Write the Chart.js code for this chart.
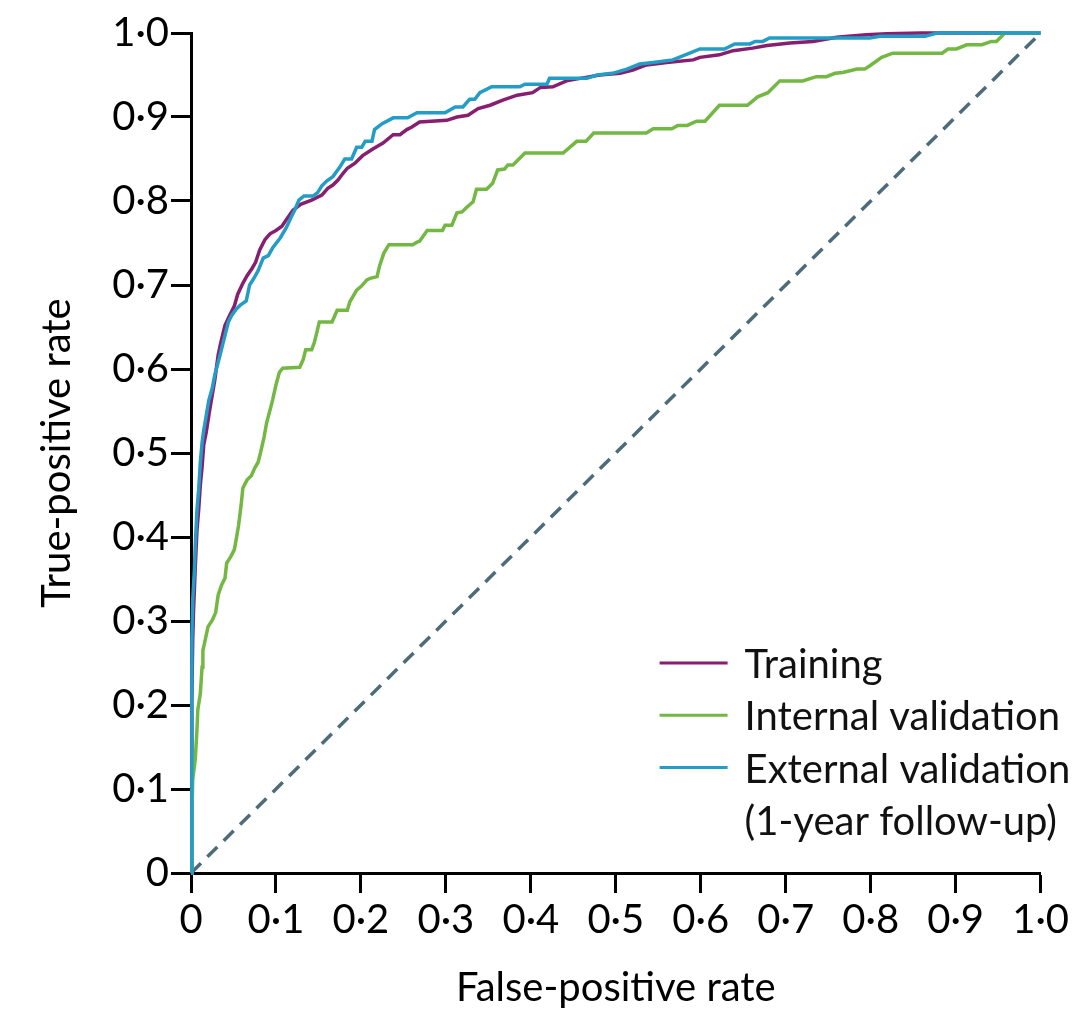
<!DOCTYPE html>
<html>
<head>
<meta charset="utf-8">
<script src="https://cdn.jsdelivr.net/npm/chart.js@4/dist/chart.umd.min.js"></script>
<style>
  html, body { margin: 0; padding: 0; background: #ffffff; }
  #wrap { width: 1072px; height: 1013px; position: relative; }
</style>
</head>
<body>
<div id="wrap"><canvas id="c" width="1072" height="1013"></canvas></div>
<script>
// ---------- data ----------
const tickLabels = ['0', '0·1', '0·2', '0·3', '0·4', '0·5', '0·6', '0·7', '0·8', '0·9', '1·0'];
const seriesNames = ['Training', 'Internal validation', 'External validation', '(1-year follow-up)'];

const trainingFpr = [0, 0.001, 0.002, 0.003, 0.005, 0.007, 0.009, 0.011, 0.013, 0.015, 0.018, 0.021, 0.025, 0.028, 0.032, 0.035, 0.040, 0.046, 0.051, 0.055, 0.061, 0.066, 0.072, 0.076, 0.081, 0.087, 0.093, 0.100, 0.107, 0.113, 0.120, 0.129, 0.142, 0.154, 0.161, 0.167, 0.173, 0.179, 0.184, 0.193, 0.202, 0.214, 0.226, 0.238, 0.246, 0.254, 0.260, 0.269, 0.301, 0.313, 0.326, 0.338, 0.352, 0.367, 0.384, 0.402, 0.411, 0.426, 0.442, 0.458, 0.481, 0.505, 0.520, 0.536, 0.560, 0.591, 0.599, 0.622, 0.638, 0.661, 0.678, 0.705, 0.732, 0.760, 0.795, 0.819, 0.860, 1.0];
const trainingTpr = [0, 0.206, 0.277, 0.313, 0.364, 0.408, 0.432, 0.462, 0.483, 0.510, 0.525, 0.545, 0.569, 0.587, 0.617, 0.631, 0.652, 0.665, 0.675, 0.689, 0.702, 0.711, 0.720, 0.727, 0.742, 0.754, 0.761, 0.765, 0.770, 0.779, 0.789, 0.796, 0.801, 0.807, 0.815, 0.819, 0.825, 0.833, 0.839, 0.845, 0.854, 0.862, 0.869, 0.879, 0.879, 0.885, 0.888, 0.894, 0.896, 0.900, 0.902, 0.910, 0.914, 0.920, 0.926, 0.929, 0.935, 0.936, 0.943, 0.946, 0.950, 0.952, 0.956, 0.962, 0.965, 0.968, 0.971, 0.974, 0.979, 0.982, 0.985, 0.988, 0.990, 0.995, 0.998, 0.999, 1.0, 1.0];

const internalFpr = [0, 0.001, 0.002, 0.005, 0.007, 0.008, 0.011, 0.013, 0.014, 0.016, 0.020, 0.025, 0.029, 0.032, 0.036, 0.040, 0.042, 0.047, 0.051, 0.053, 0.056, 0.059, 0.061, 0.066, 0.071, 0.075, 0.079, 0.082, 0.086, 0.089, 0.093, 0.096, 0.100, 0.104, 0.108, 0.128, 0.132, 0.135, 0.142, 0.145, 0.148, 0.151, 0.166, 0.172, 0.184, 0.187, 0.195, 0.201, 0.207, 0.211, 0.219, 0.222, 0.227, 0.233, 0.261, 0.266, 0.269, 0.278, 0.296, 0.299, 0.307, 0.313, 0.319, 0.324, 0.332, 0.336, 0.348, 0.355, 0.361, 0.369, 0.373, 0.379, 0.393, 0.438, 0.454, 0.465, 0.474, 0.536, 0.544, 0.566, 0.573, 0.584, 0.595, 0.605, 0.622, 0.655, 0.667, 0.679, 0.693, 0.720, 0.736, 0.748, 0.758, 0.767, 0.784, 0.793, 0.799, 0.813, 0.826, 0.884, 0.891, 0.901, 0.913, 0.931, 0.942, 0.948, 0.958, 1.0];
const internalTpr = [0, 0.063, 0.111, 0.135, 0.170, 0.194, 0.214, 0.245, 0.265, 0.274, 0.293, 0.301, 0.310, 0.331, 0.343, 0.351, 0.369, 0.377, 0.385, 0.396, 0.414, 0.438, 0.458, 0.468, 0.473, 0.482, 0.489, 0.501, 0.519, 0.536, 0.551, 0.563, 0.581, 0.596, 0.601, 0.602, 0.611, 0.623, 0.623, 0.631, 0.643, 0.656, 0.656, 0.670, 0.670, 0.680, 0.694, 0.699, 0.706, 0.708, 0.710, 0.723, 0.738, 0.748, 0.748, 0.751, 0.752, 0.765, 0.765, 0.771, 0.771, 0.786, 0.787, 0.792, 0.799, 0.814, 0.814, 0.821, 0.837, 0.838, 0.843, 0.843, 0.857, 0.857, 0.871, 0.871, 0.881, 0.881, 0.886, 0.886, 0.890, 0.890, 0.895, 0.895, 0.914, 0.914, 0.924, 0.929, 0.943, 0.943, 0.948, 0.948, 0.952, 0.953, 0.957, 0.957, 0.961, 0.971, 0.976, 0.976, 0.981, 0.981, 0.986, 0.986, 0.990, 0.990, 1.0, 1.0];

const externalFpr = [0, 0.001, 0.001, 0.002, 0.004, 0.005, 0.007, 0.009, 0.011, 0.013, 0.015, 0.018, 0.021, 0.025, 0.028, 0.032, 0.035, 0.040, 0.044, 0.048, 0.053, 0.058, 0.065, 0.069, 0.074, 0.079, 0.085, 0.091, 0.096, 0.105, 0.112, 0.118, 0.122, 0.127, 0.133, 0.144, 0.149, 0.154, 0.160, 0.167, 0.175, 0.181, 0.189, 0.195, 0.201, 0.205, 0.213, 0.216, 0.225, 0.238, 0.255, 0.266, 0.299, 0.311, 0.320, 0.328, 0.334, 0.340, 0.354, 0.387, 0.393, 0.419, 0.422, 0.466, 0.478, 0.496, 0.513, 0.528, 0.544, 0.567, 0.587, 0.599, 0.628, 0.640, 0.658, 0.664, 0.673, 0.681, 0.799, 0.811, 0.864, 0.878, 1.0];
const externalTpr = [0, 0.206, 0.277, 0.325, 0.361, 0.390, 0.432, 0.456, 0.489, 0.512, 0.527, 0.545, 0.563, 0.577, 0.593, 0.608, 0.620, 0.640, 0.656, 0.664, 0.671, 0.676, 0.681, 0.700, 0.708, 0.717, 0.732, 0.735, 0.744, 0.756, 0.768, 0.781, 0.789, 0.801, 0.806, 0.806, 0.810, 0.818, 0.824, 0.829, 0.840, 0.850, 0.850, 0.864, 0.864, 0.871, 0.871, 0.885, 0.892, 0.899, 0.899, 0.905, 0.905, 0.912, 0.912, 0.921, 0.921, 0.929, 0.936, 0.936, 0.939, 0.939, 0.946, 0.946, 0.950, 0.952, 0.957, 0.963, 0.965, 0.968, 0.976, 0.981, 0.981, 0.987, 0.987, 0.990, 0.990, 0.994, 0.994, 0.996, 0.996, 1.0, 1.0];

const chanceFpr = [0, 1];
const chanceTpr = [0, 1];

// ---------- styling ----------
const COLORS = { training: '#861f6f', internal: '#73b843', external: '#239dc6', chance: '#4d6b78' };
const FONT = 'Lato, "Open Sans", "Noto Sans", sans-serif';

function toPoints(xs, ys) { return xs.map((x, i) => ({ x: x, y: ys[i] })); }

const legendPlugin = {
  id: 'insideLegend',
  afterDatasetsDraw(chart) {
    const ctx = chart.ctx;
    const ca = chart.chartArea;
    const x0 = ca.right - 381, x1 = ca.right - 313, tx = ca.right - 296;
    const base = ca.bottom - 195;
    const step = 52.3;
    const rows = [
      { name: seriesNames[0], color: COLORS.training },
      { name: seriesNames[1], color: COLORS.internal },
      { name: seriesNames[2], color: COLORS.external },
      { name: seriesNames[3], color: null }
    ];
    ctx.save();
    ctx.font = '40px ' + FONT;
    ctx.textBaseline = 'alphabetic';
    ctx.textAlign = 'left';
    rows.forEach((r, i) => {
      const by = base + i * step;
      if (r.color) {
        ctx.strokeStyle = r.color;
        ctx.lineWidth = 3;
        ctx.beginPath();
        ctx.moveTo(x0, by - 15);
        ctx.lineTo(x1, by - 15);
        ctx.stroke();
      }
      ctx.fillStyle = '#111';
      ctx.fillText(r.name, tx, by);
    });
    ctx.restore();
  }
};

const axisCommon = {
  type: 'linear',
  min: 0,
  max: 1,
  border: { display: true, color: '#000', width: 3 },
  grid: { display: true, drawOnChartArea: false, drawTicks: true, tickLength: 20, tickWidth: 3, tickColor: '#000' },
};

const chart = new Chart(document.getElementById('c'), {
  type: 'scatter',
  data: {
    datasets: [
      { label: seriesNames[0], data: toPoints(trainingFpr, trainingTpr), borderColor: COLORS.training, order: 2 },
      { label: seriesNames[1], data: toPoints(internalFpr, internalTpr), borderColor: COLORS.internal, order: 1 },
      { label: seriesNames[2], data: toPoints(externalFpr, externalTpr), borderColor: COLORS.external, order: 0 },
      { label: 'Chance', data: toPoints(chanceFpr, chanceTpr), borderColor: COLORS.chance, borderDash: [14, 9], order: 3 }
    ].map(d => Object.assign({ showLine: true, pointRadius: 0, pointHoverRadius: 0, borderWidth: 3.5, tension: 0, fill: false, clip: false }, d))
  },
  options: {
    responsive: false,
    animation: false,
    devicePixelRatio: 1,
    layout: { padding: { left: 20, right: 31, top: 33, bottom: 0 } },
    plugins: { legend: { display: false }, tooltip: { enabled: false } },
    scales: {
      x: Object.assign({}, axisCommon, {
        position: 'bottom',
        afterFit: s => { s.height = 140; },
        ticks: { stepSize: 0.1, autoSkip: false, maxRotation: 0, padding: 3, color: '#000', font: { family: FONT, size: 40 }, callback: (v, i) => tickLabels[i] },
        title: { display: true, text: 'False-positive rate', color: '#000', font: { family: FONT, size: 40 }, padding: { top: 0, bottom: 1 } }
      }),
      y: Object.assign({}, axisCommon, {
        position: 'left',
        afterFit: s => { s.width = 171; },
        ticks: { stepSize: 0.1, autoSkip: false, padding: 2, color: '#000', font: { family: FONT, size: 40 }, callback: (v, i) => tickLabels[i] },
        title: { display: true, text: 'True-positive rate', color: '#000', font: { family: FONT, size: 40 }, padding: { top: 13, bottom: 0 } }
      })
    }
  },
  plugins: [legendPlugin]
});
</script>
</body>
</html>
